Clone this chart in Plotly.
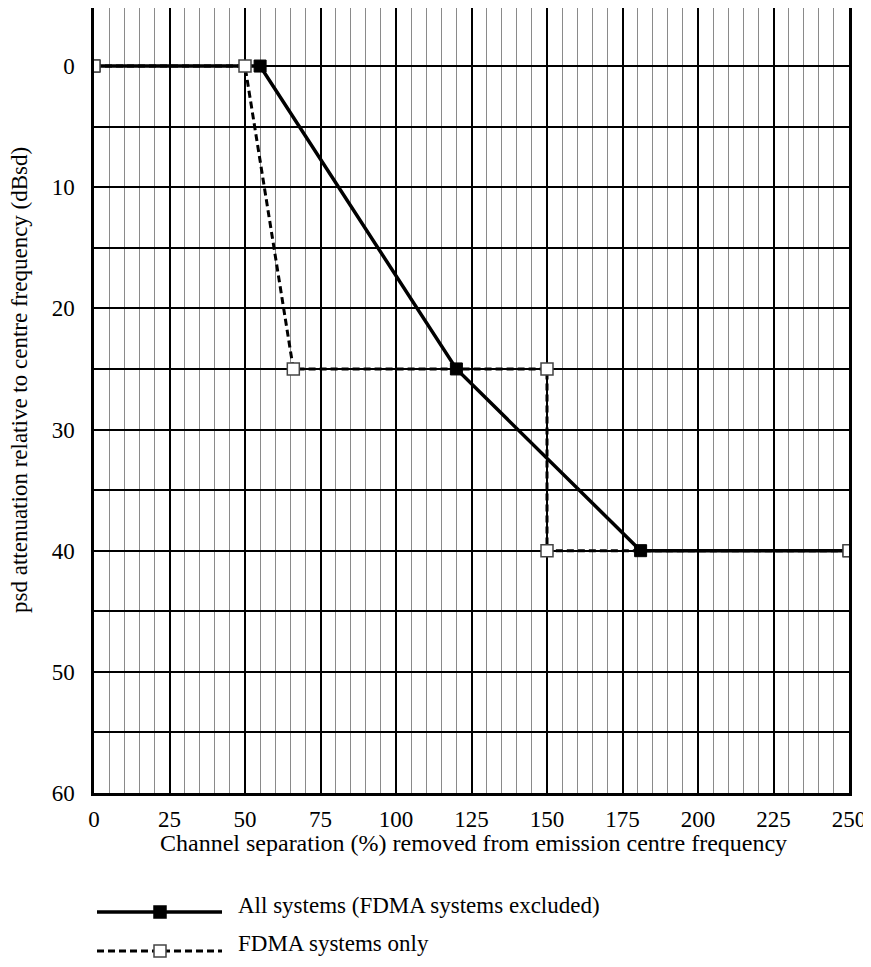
import plotly.graph_objects as go

# Data
all_x = [0, 55, 120, 181, 250]
all_y = [0, 0, 25, 40, 40]
fdma_x = [0, 50, 66, 150, 150, 250]
fdma_y = [0, 0, 25, 25, 40, 40]

series_names = ["All systems (FDMA systems excluded)", "FDMA systems only"]
x_ticks = [0, 25, 50, 75, 100, 125, 150, 175, 200, 225, 250]
y_ticks = [0, 10, 20, 30, 40, 50, 60]
x_title = "Channel separation (%) removed from emission centre frequency"
y_title = "psd attenuation relative to centre frequency (dBsd)"

FONT = "Times New Roman"
FS = 23

OFF = 8
W, H = 863, 959
L, T = 94 - OFF, 0
R = W - (849 - OFF)
B = H - (793 - OFF)
pw, ph = W - L - R, H - T - B

def px(x):
    return (x - OFF - L) / pw

def py(y):
    return (H - B - (y - OFF)) / ph

fig = go.Figure()
fig.add_trace(go.Scatter(
    x=all_x, y=all_y, mode="lines+markers", name=series_names[0],
    line=dict(color="black", width=3.5),
    marker=dict(symbol="square", size=12, color="black", line=dict(color="black", width=1)),
    showlegend=False,
))
fig.add_trace(go.Scatter(
    x=fdma_x, y=fdma_y, mode="lines+markers", name=series_names[1],
    line=dict(color="black", width=3, dash="7px,4px"),
    marker=dict(symbol="square", size=12, color="white", line=dict(color="#444444", width=1.5)),
    showlegend=False,
))

fig.update_xaxes(
    range=[0, 250], tickvals=x_ticks, ticktext=[str(v) for v in x_ticks],
    showgrid=True, gridcolor="black", gridwidth=2,
    minor=dict(dtick=5, tick0=0, showgrid=True, gridcolor="#8a8a8a", gridwidth=1),
    showline=True, linecolor="black", linewidth=2.5, mirror=True,
    ticks="", zeroline=False, ticklabelstandoff=4, ticklabeloverflow="allow",
    tickfont=dict(family=FONT, size=FS, color="black"),
)
fig.update_yaxes(
    range=[60, -4.79], tickvals=y_ticks, ticktext=[str(v) for v in y_ticks],
    showgrid=True, gridcolor="black", gridwidth=2,
    minor=dict(dtick=5, tick0=0, showgrid=True, gridcolor="black", gridwidth=2),
    showline=True, linecolor="black", linewidth=2.5, mirror=True,
    ticks="", zeroline=False, ticklabelstandoff=12, ticklabeloverflow="allow",
    tickfont=dict(family=FONT, size=FS, color="black"),
)

annotations = [
    dict(xref="paper", yref="paper", x=px(473), y=py(843), xanchor="center", yanchor="middle",
         showarrow=False, text=x_title, font=dict(family=FONT, size=24, color="black")),
    dict(xref="paper", yref="paper", x=px(19), y=py(380), xanchor="center", yanchor="middle",
         showarrow=False, text=y_title, textangle=-90, font=dict(family=FONT, size=FS, color="black")),
]
shapes = []
leg = [(912, 905, dict(color="black", width=3.5), "black", "black"),
       (951, 943, dict(color="black", width=3, dash="7px,4px"), "white", "#444444")]
for (yy, ty, ln, fill, edge), name in zip(leg, series_names):
    shapes.append(dict(type="line", xref="paper", yref="paper",
                       x0=px(97), x1=px(222), y0=py(yy), y1=py(yy), line=ln))
    shapes.append(dict(type="rect", xref="paper", yref="paper",
                       x0=px(154), x1=px(166), y0=py(yy - 6), y1=py(yy + 6),
                       fillcolor=fill, line=dict(color=edge, width=1.5)))
    annotations.append(dict(xref="paper", yref="paper", x=px(236), y=py(ty),
                            xanchor="left", yanchor="middle", showarrow=False,
                            text=name, font=dict(family=FONT, size=FS, color="black")))

fig.update_layout(
    width=W, height=H,
    margin=dict(l=L, r=R, t=T, b=B, autoexpand=False),
    plot_bgcolor="white", paper_bgcolor="white",
    shapes=shapes, annotations=annotations,
    font=dict(family=FONT, size=FS, color="black"),
)
fig.write_html("out.html")
